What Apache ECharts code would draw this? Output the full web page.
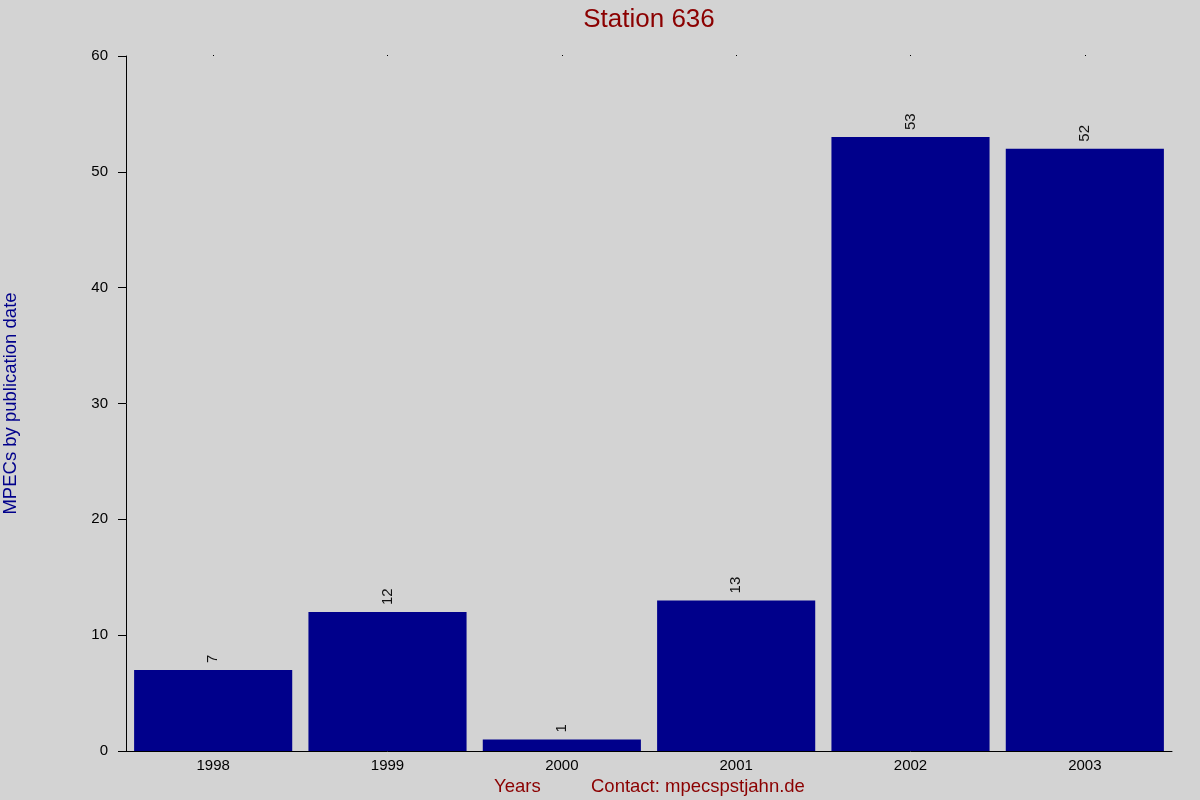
<!DOCTYPE html>
<html><head><meta charset="utf-8">
<script src="https://cdn.jsdelivr.net/npm/echarts@6/dist/echarts.min.js"></script>
<style>html,body{margin:0;padding:0;background:#d3d3d3}#c{width:1200px;height:800px}</style>
</head><body><div id="c"></div>
<script>
const categories = ['1998','1999','2000','2001','2002','2003'];
const values = [7, 12, 1, 13, 53, 52];
const yTicks = {min: 0, max: 60, interval: 10};
const titleText = 'Station 636';
const yName = 'MPECs by publication date';
const xName = 'Years';
const contact = 'Contact: mpecspstjahn.de';

const F = '"Liberation Sans", Arial, sans-serif';
const chart = echarts.init(document.getElementById('c'));
chart.setOption({
  backgroundColor: '#d3d3d3',
  animation: false,
  textStyle: {fontFamily: F},
  title: [
    {text: titleText, left: 649, textAlign: 'center', top: 7, padding: 0, textStyle: {color: '#8b0000', fontSize: 26, fontWeight: 'normal', fontFamily: F}},
    {text: xName, left: 494, top: 777, padding: 0, textStyle: {color: '#8b0000', fontSize: 18.5, fontWeight: 'normal', fontFamily: F}},
    {text: contact, left: 591, top: 777, padding: 0, textStyle: {color: '#8b0000', fontSize: 18.5, fontWeight: 'normal', fontFamily: F}}
  ],
  grid: {left: 126, right: 28, top: 56, bottom: 49, outerBoundsMode: 'none', containLabel: false},
  xAxis: [{
    type: 'category', data: categories,
    axisLine: {lineStyle: {color: '#000', width: 1}},
    axisTick: {show: false},
    axisLabel: {color: '#000', fontSize: 15, margin: 7, fontFamily: F},
    splitLine: {show: false}
  }, {
    type: 'category', data: categories, position: 'top',
    axisLine: {show: false},
    axisTick: {show: true, alignWithLabel: true, length: 1, lineStyle: {color: '#000'}},
    axisLabel: {show: false},
    splitLine: {show: false}
  }],
  yAxis: {
    type: 'value', min: yTicks.min, max: yTicks.max, interval: yTicks.interval,
    name: yName, nameLocation: 'middle', nameGap: 106, nameRotate: 90,
    nameTextStyle: {color: '#00008b', fontSize: 18.5, fontFamily: F},
    axisLine: {show: true, lineStyle: {color: '#000', width: 1}},
    axisTick: {show: true, length: 8, lineStyle: {color: '#000'}},
    axisLabel: {color: '#000', fontSize: 15, margin: 18, fontFamily: F},
    splitLine: {show: false}
  },
  series: [{
    type: 'bar', data: values, barCategoryGap: '9.3%',
    itemStyle: {color: '#00008b'},
    label: {show: true, position: 'top', rotate: 90, align: 'left', verticalAlign: 'middle',
      distance: 7, color: '#111', fontSize: 15, fontFamily: F}
  }]
});
</script></body></html>
